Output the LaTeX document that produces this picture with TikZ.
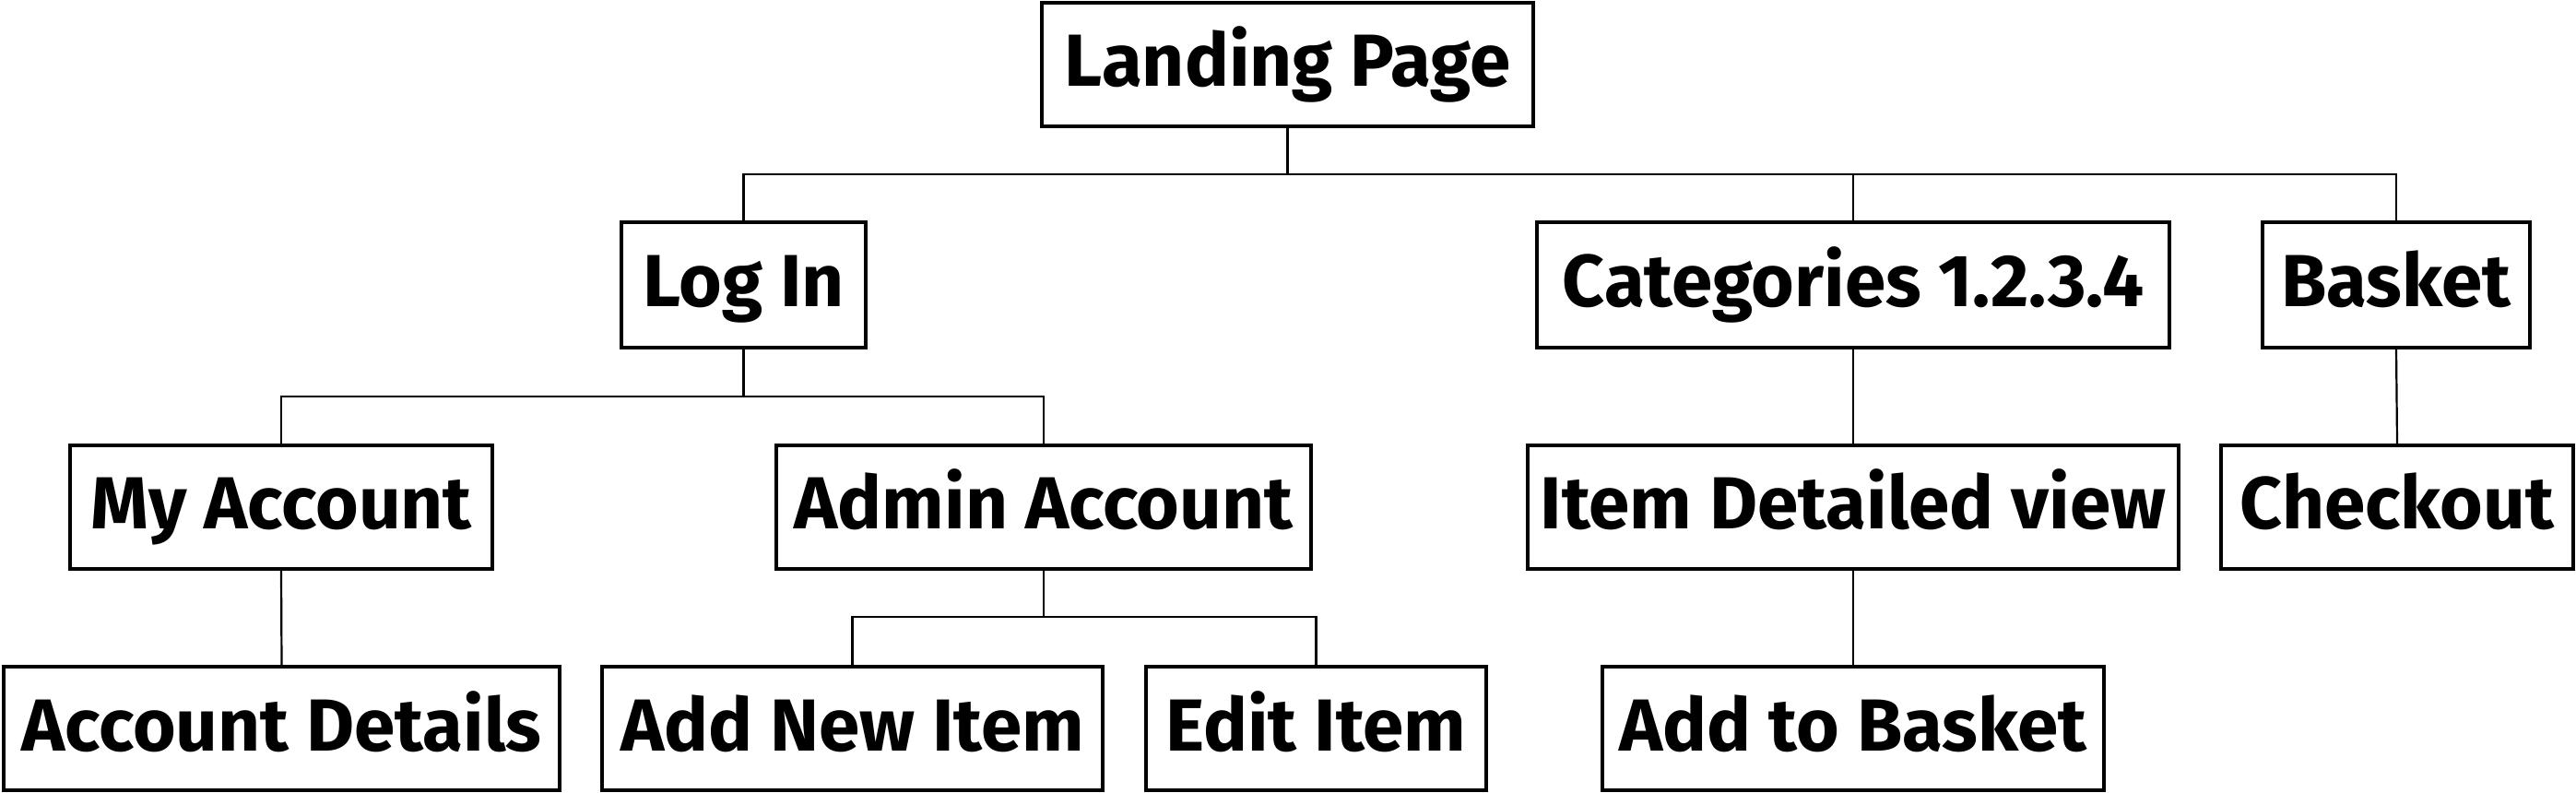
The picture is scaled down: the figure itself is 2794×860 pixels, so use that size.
\documentclass[tikz,border=0pt]{standalone}
\usepackage{fontspec}
\setmainfont{Fira Sans}
\begin{document}
\begin{tikzpicture}[x=0.5pt,y=-0.5pt,
  box/.style={draw=black, line width=1.8pt, rectangle, inner sep=0pt,
    font=\fontsize{40}{44}\selectfont\bfseries, minimum height=67pt,
    text height=32pt, text depth=8pt},
  link/.style={draw=black, line width=1.1pt}]
\useasboundingbox (0,0) rectangle (2794,860);
% level 0
\node[box, minimum width=266.5pt] (land) at (1396.5,70) {Landing Page};
% level 1
\node[box, minimum width=132.5pt, minimum height=68pt] (login) at (806.5,309) {Log In};
\node[box, minimum width=343pt, minimum height=68pt] (cat) at (2010,309) {Categories 1.2.3.4};
\node[box, minimum width=145pt, minimum height=68pt] (basket) at (2599,309) {Basket};
% level 2
\node[box, minimum width=229pt] (myacc) at (305,550) {My Account};
\node[box, minimum width=290pt] (admin) at (1132,550) {Admin Account};
\node[box, minimum width=353pt] (item) at (2010,550) {Item Detailed view};
\node[box, minimum width=191pt] (checkout) at (2600,550) {Checkout};
% level 3
\node[box, minimum width=301.5pt] (accdet) at (305.5,790) {Account Details};
\node[box, minimum width=271.5pt] (addnew) at (924.5,790) {Add New Item};
\node[box, minimum width=184.5pt] (edit) at (1427.5,790) {Edit Item};
\node[box, minimum width=272pt] (addbasket) at (2010,790) {Add to Basket};
% buses
\coordinate (b0) at (0,189);
\coordinate (b1) at (0,430);
\coordinate (b2) at (0,669);
% connectors
\draw[link] (land.south) -- (land.south |- b0) -| (login.north);
\draw[link] (land.south |- b0) -| (cat.north);
\draw[link] (land.south |- b0) -| (basket.north);
\draw[link] (login.south) -- (login.south |- b1) -| (myacc.north);
\draw[link] (login.south |- b1) -| (admin.north);
\draw[link] (myacc.south) -- (accdet.north);
\draw[link] (admin.south) -- (admin.south |- b2) -| (addnew.north);
\draw[link] (admin.south |- b2) -| (edit.north);
\draw[link] (cat.south) -- (item.north);
\draw[link] (item.south) -- (addbasket.north);
\draw[link] (basket.south) -- (checkout.north);
\end{tikzpicture}
\end{document}
